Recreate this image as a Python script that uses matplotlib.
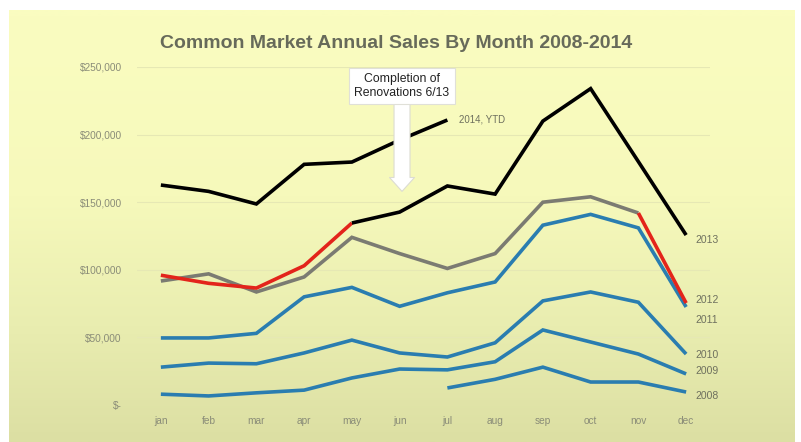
import numpy as np
import matplotlib
matplotlib.use('Agg')
import matplotlib.pyplot as plt
from matplotlib.colors import LinearSegmentedColormap

plt.rcParams['font.family'] = ['Liberation Sans', 'DejaVu Sans']

months = ['jan', 'feb', 'mar', 'apr', 'may', 'jun', 'jul', 'aug', 'sep', 'oct', 'nov', 'dec']

# monthly sales, $
s2008 = [None, None, None, None, None, None, 12600, 19000, 28000, 17000, 17000, 9600]
s2009 = [8000, 6700, 9000, 11000, 20000, 26600, 26000, 32000, 55500, 46600, 37700, 23000]
s2010 = [28000, 31000, 30500, 38500, 48000, 38500, 35500, 46000, 77000, 83600, 76000, 37700]
s2011 = [49600, 49600, 53000, 80000, 87000, 73000, 83000, 91000, 133000, 141000, 131000, 72500]
s2012 = [91700, 97000, 83600, 94700, 124000, 112000, 101000, 112000, 150000, 154000, 142000, 75400]
s2013 = [96000, 90000, 86500, 103000, 134600, 142700, 162000, 156000, 210000, 234000, 180000, 125700]
s2014 = [162700, 158000, 148700, 178000, 179700, 196000, 210800]

yticks = [0, 50000, 100000, 150000, 200000, 250000]
ytick_labels = ['$-', '$50,000', '$100,000', '$150,000', '$200,000', '$250,000']

blue = '#2a7db0'
gray = '#7b7b72'
red = '#e3241b'
txt = '#6e705e'
lw = 2.6

fig = plt.figure(figsize=(8.01, 4.42), dpi=100)
fig.patch.set_facecolor('white')

# yellow gradient background panel
bg = fig.add_axes([9 / 801, 0, 786 / 801, 432 / 442])
cmap = LinearSegmentedColormap.from_list('bg', ['#fafcc0', '#f6f9bb', '#e9edb0', '#dcdfa3'])
grad = np.linspace(0, 1, 256).reshape(-1, 1) ** 1.3
bg.imshow(grad, aspect='auto', cmap=cmap, extent=[0, 1, 0, 1], origin='upper')
bg.axis('off')

ax = fig.add_axes([137 / 801, 37 / 442, 573 / 801, 338 / 442])
ax.set_facecolor('none')
x = np.arange(len(months))

def plot_series(vals, color, start=0, end=None):
    xs = [i for i, v in enumerate(vals) if v is not None]
    ys = [v for v in vals if v is not None]
    xs = xs[start:end]
    ys = ys[start:end]
    ax.plot(xs, ys, color=color, lw=lw, solid_joinstyle='miter', solid_capstyle='butt')

plot_series(s2008, blue)
plot_series(s2009, blue)
plot_series(s2010, blue)
plot_series(s2011, blue)
plot_series(s2012, gray, 0, 11)
plot_series(s2012, red, 10, 12)
plot_series(s2013, red, 0, 5)
plot_series(s2013, 'black', 4, 12)
plot_series(s2014, 'black')

# end labels
labels = [('2013', 122000), ('2012', 77500), ('2011', 63000), ('2010', 37000), ('2009', 25000), ('2008', 6700)]
for lab, yy in labels:
    ax.text(11.2, yy, lab, fontsize=7.5, color=txt, va='center', ha='left')
ax.text(6.25, s2014[-1], '2014, YTD', fontsize=7, color=txt, va='center', ha='left')

# renovation callout
ax.annotate('', xy=(5.05, 158000), xytext=(5.05, 225000), zorder=6,
            arrowprops=dict(arrowstyle='simple,head_width=1.8,head_length=1.0,tail_width=1.15',
                            fc='white', ec='#dcdcd2', lw=0.8, shrinkA=0, shrinkB=0))
ax.text(5.05, 236000, 'Completion of\nRenovations 6/13', fontsize=8.8, color='#222222',
        ha='center', va='center', linespacing=1.2, zorder=7,
        bbox=dict(boxstyle='square,pad=0.45', fc='white', ec='#e0e0d8', lw=0.8))

ax.set_xlim(-0.5, 11.5)
ax.set_ylim(0, 250000)
ax.set_xticks(x)
ax.set_xticklabels(months)
ax.set_yticks(yticks)
ax.set_yticklabels(ytick_labels)
ax.tick_params(length=0, labelsize=7.3, colors=txt)
ax.tick_params(axis='y', pad=11)
ax.tick_params(axis='x', pad=8)
for lbl in ax.get_xticklabels() + ax.get_yticklabels():
    lbl.set_color('#8a8c78')
ax.grid(axis='y', color='#e6e8b4', lw=0.8)
ax.set_axisbelow(True)
for s in ax.spines.values():
    s.set_visible(False)

fig.text(396 / 801, 1 - 44 / 442, 'Common Market Annual Sales By Month 2008-2014',
         fontsize=14, fontweight='bold', color='#676a5a', ha='center', va='center')

fig.savefig('out.png', dpi=100, facecolor=fig.get_facecolor())
